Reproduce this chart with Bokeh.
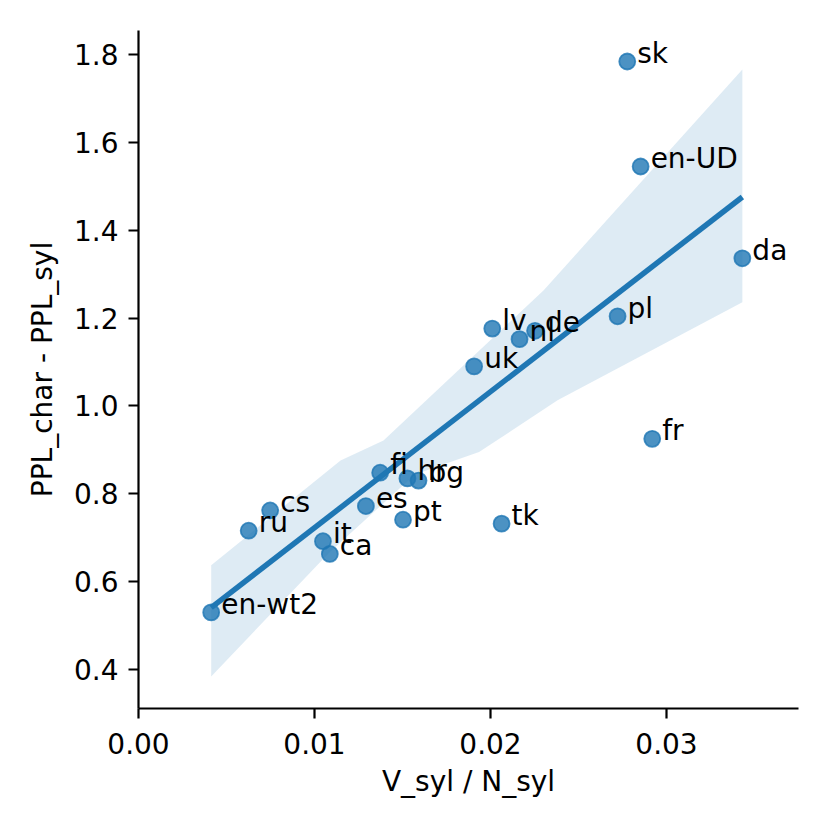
import numpy as np
from bokeh.plotting import figure
from bokeh.models import Range1d, FixedTicker, NumeralTickFormatter, ColumnDataSource
from bokeh.core.properties import value
from bokeh.embed import file_html
from bokeh.resources import INLINE

# ---- data ----
langs = ["sk", "en-UD", "da", "pl", "fr", "lv", "nl", "de", "uk", "fi",
         "hr", "bg", "es", "pt", "tk", "cs", "ru", "it", "ca", "en-wt2"]
v_ratio = [0.02777, 0.02853, 0.03431, 0.02722, 0.02919, 0.02010, 0.02165, 0.02253, 0.01907, 0.01373,
           0.01528, 0.01591, 0.01292, 0.01503, 0.02063, 0.00748, 0.00626, 0.01048, 0.01087, 0.00413]
ppl_diff = [1.784, 1.545, 1.336, 1.204, 0.925, 1.176, 1.152, 1.171, 1.090, 0.848,
            0.835, 0.830, 0.772, 0.741, 0.732, 0.762, 0.716, 0.692, 0.663, 0.530]

# confidence band edges (bootstrap CI as drawn in the reference)
ci_upper_x = [0.00413, 0.01148, 0.01392, 0.02301, 0.03431]
ci_upper_y = [0.6375, 0.8758, 0.9213, 1.2628, 1.7659]
ci_lower_x = [0.00413, 0.01083, 0.01570, 0.01935, 0.02381, 0.03431]
ci_lower_y = [0.3841, 0.6655, 0.8437, 0.8949, 1.0128, 1.2359]

x_ticks = [0.00, 0.01, 0.02, 0.03]
y_ticks = [0.4, 0.6, 0.8, 1.0, 1.2, 1.4, 1.6, 1.8]

x_label = "V_syl / N_syl"
y_label = "PPL_char - PPL_syl"

C0 = "#1f77b4"
FONT = "DejaVu Sans"
FS = "28px"

p = figure(width=814, height=814, output_backend="svg", toolbar_location=None,
           x_range=Range1d(0.0, 0.0375), y_range=Range1d(0.3112, 1.8546),
           min_border_left=138, min_border_right=16, min_border_top=30, min_border_bottom=106)
p.outline_line_color = None
p.xgrid.visible = False
p.ygrid.visible = False
p.background_fill_color = "white"
p.border_fill_color = "white"

src = ColumnDataSource(dict(x=v_ratio, y=ppl_diff, label=langs))

# scatter
p.scatter("x", "y", source=src, size=16, fill_color=C0, fill_alpha=0.8,
          line_color=C0, line_alpha=0.8, line_width=1.8)

# CI band
band_x = list(ci_upper_x) + list(ci_lower_x[::-1])
band_y = list(ci_upper_y) + list(ci_lower_y[::-1])
p.patch(band_x, band_y, fill_color=C0, fill_alpha=0.15, line_color=None)

# regression line
xs = np.array(v_ratio)
ys = np.array(ppl_diff)
slope, intercept = np.polyfit(xs, ys, 1)
lx = np.array([xs.min(), xs.max()])
p.line(lx, slope * lx + intercept, line_color=C0, line_width=5.5)

# labels
p.text("x", "y", text="label", source=src, x_offset=10, y_offset=-8,
       text_font=value(FONT), text_font_size=FS, text_color="black",
       text_baseline="alphabetic", text_align="left")

for ax, ticks, fmt in ((p.xaxis[0], x_ticks, "0.00"), (p.yaxis[0], y_ticks, "0.0")):
    ax.ticker = FixedTicker(ticks=ticks)
    ax.formatter = NumeralTickFormatter(format=fmt)
    ax.axis_line_width = 2.2
    ax.axis_line_color = "black"
    ax.major_tick_line_width = 2.2
    ax.major_tick_line_color = "black"
    ax.major_tick_out = 10
    ax.major_tick_in = 0
    ax.minor_tick_line_color = None
    ax.major_label_text_font = FONT
    ax.major_label_text_font_size = FS
    ax.major_label_text_color = "black"
    ax.axis_label_text_font = FONT
    ax.axis_label_text_font_size = FS
    ax.axis_label_text_font_style = "normal"
    ax.axis_label_text_color = "black"

p.xaxis.major_label_standoff = 14
p.yaxis.major_label_standoff = 10
p.xaxis.axis_label = x_label
p.yaxis.axis_label = y_label
p.xaxis.axis_label_standoff = 8
p.yaxis.axis_label_standoff = 12

open("out.html", "w").write(file_html(p, INLINE))
